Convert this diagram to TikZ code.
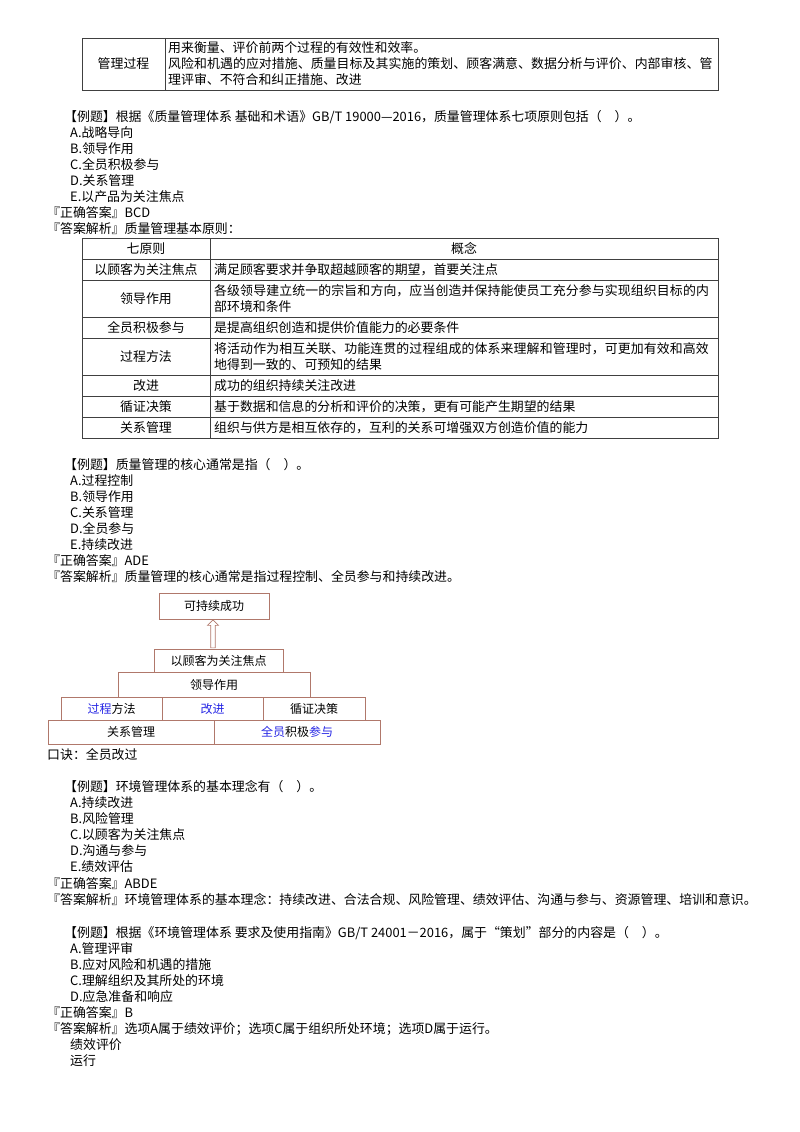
\documentclass[tikz,border=0pt]{standalone}
\usepackage{fontspec}
\setmainfont{Noto Sans CJK SC}
\XeTeXlinebreaklocale "zh"
\XeTeXlinebreakskip=0pt plus 1pt
\usetikzlibrary{shapes.arrows}
\definecolor{pyrline}{rgb}{0.690000, 0.470000, 0.420000}
\definecolor{pyrblue}{rgb}{0.150000, 0.150000, 0.900000}
\tikzset{
  line/.style={anchor=west, inner sep=0pt, font=\fontsize{12.9}{14}\selectfont},
  cell/.style={anchor=west, inner sep=0pt, align=left, font=\fontsize{12.9}{16}\selectfont},
  mid/.style={inner sep=0pt, font=\fontsize{12.9}{14}\selectfont},
  grid/.style={draw=black!75, line width=0.9pt},
  pyr/.style={draw=pyrline, line width=0.8pt, fill=white},
  pyrtxt/.style={inner sep=0pt, font=\fontsize{12}{13}\selectfont}
}
\begin{document}
\begin{tikzpicture}[x=1pt, y=-1pt]
\useasboundingbox (0,0) rectangle (800,1132);
% top table
\draw[grid] (82,38) rectangle (718,90);
\draw[grid] (165,38) -- (165,90);
\node[mid] (gl) at (123.5,64) {管理过程};
\node[cell, text width=546pt] (glc) at (168,64) {用来衡量、评价前两个过程的有效性和效率。\\风险和机遇的应对措施、质量目标及其实施的策划、顾客满意、数据分析与评价、内部审核、管理评审、不符合和纠正措施、改进};
% question 1
\node[line] (q1) at (64,117) {【例题】根据《质量管理体系 基础和术语》GB/T 19000—2016，质量管理体系七项原则包括（\quad ）。};
\node[line] (q1a) at (70,133) {A.战略导向};
\node[line] (q1b) at (70,149) {B.领导作用};
\node[line] (q1c) at (70,165) {C.全员积极参与};
\node[line] (q1d) at (70,181) {D.关系管理};
\node[line] (q1e) at (70,197) {E.以产品为关注焦点};
\node[line] (q1k) at (47,213) {『正确答案』BCD};
\node[line] (q1j) at (47,229) {『答案解析』质量管理基本原则：};
% principles table
\draw[grid] (82,238) rectangle (718,438);
\draw[grid] (210,238) -- (210,438);
\foreach \yy in {259,280,317,338,375,396,417}
  \draw[grid] (82,\yy) -- (718,\yy);
\node[mid] (h1) at (146,248.5) {七原则};
\node[mid] (h2) at (464,248.5) {概念};
\node[mid] (r1) at (146,269.5) {以顾客为关注焦点};
\node[cell] (r1c) at (214,269.5) {满足顾客要求并争取超越顾客的期望，首要关注点};
\node[mid] (r2) at (146,298.5) {领导作用};
\node[cell, text width=498pt] (r2c) at (214,298.5) {各级领导建立统一的宗旨和方向，应当创造并保持能使员工充分参与实现组织目标的内部环境和条件};
\node[mid] (r3) at (146,327.5) {全员积极参与};
\node[cell] (r3c) at (214,327.5) {是提高组织创造和提供价值能力的必要条件};
\node[mid] (r4) at (146,356.5) {过程方法};
\node[cell, text width=498pt] (r4c) at (214,356.5) {将活动作为相互关联、功能连贯的过程组成的体系来理解和管理时，可更加有效和高效地得到一致的、可预知的结果};
\node[mid] (r5) at (146,385.5) {改进};
\node[cell] (r5c) at (214,385.5) {成功的组织持续关注改进};
\node[mid] (r6) at (146,406.5) {循证决策};
\node[cell] (r6c) at (214,406.5) {基于数据和信息的分析和评价的决策，更有可能产生期望的结果};
\node[mid] (r7) at (146,427.5) {关系管理};
\node[cell] (r7c) at (214,427.5) {组织与供方是相互依存的，互利的关系可增强双方创造价值的能力};
% question 2
\node[line] (q2) at (64,465) {【例题】质量管理的核心通常是指（\quad ）。};
\node[line] (q2a) at (70,481) {A.过程控制};
\node[line] (q2b) at (70,497) {B.领导作用};
\node[line] (q2c) at (70,513) {C.关系管理};
\node[line] (q2d) at (70,529) {D.全员参与};
\node[line] (q2e) at (70,545) {E.持续改进};
\node[line] (q2k) at (47,561) {『正确答案』ADE};
\node[line] (q2j) at (47,577) {『答案解析』质量管理的核心通常是指过程控制、全员参与和持续改进。};
% pyramid
\draw[pyr] (159,593) rectangle (269,619);
\node[pyrtxt] (cg) at (214,606) {可持续成功};
\draw[pyr] (154,649) rectangle (283,672);
\node[pyrtxt] (gk) at (218.5,660.5) {以顾客为关注焦点};
\draw[pyr] (118,672) rectangle (310,697);
\node[pyrtxt] (ld) at (214,684.5) {领导作用};
\draw[pyr] (61,697) rectangle (162,720);
\draw[pyr] (162,697) rectangle (263,720);
\draw[pyr] (263,697) rectangle (365,720);
\node[pyrtxt] (gc) at (111.5,708.5) {\textcolor{pyrblue}{过程}方法};
\node[pyrtxt, text=pyrblue] (gj) at (212.5,708.5) {改进};
\node[pyrtxt] (xz) at (314,708.5) {循证决策};
\draw[pyr] (48,720) rectangle (214,744);
\draw[pyr] (214,720) rectangle (380,744);
\node[pyrtxt] (gx) at (131,732) {关系管理};
\node[pyrtxt] (qy) at (297,732) {\textcolor{pyrblue}{全员}积极\textcolor{pyrblue}{参与}};
\node[single arrow, draw=pyrline, line width=0.7pt, rotate=90, minimum height=28pt,
  minimum width=11pt, single arrow head extend=2pt, inner sep=1pt] (up) at (213,635) {};
\node[line] (kj) at (47,755) {口诀：全员改过};
% question 3
\node[line] (q3) at (64,787) {【例题】环境管理体系的基本理念有（\quad ）。};
\node[line] (q3a) at (70,803) {A.持续改进};
\node[line] (q3b) at (70,819) {B.风险管理};
\node[line] (q3c) at (70,835) {C.以顾客为关注焦点};
\node[line] (q3d) at (70,851) {D.沟通与参与};
\node[line] (q3e) at (70,867) {E.绩效评估};
\node[line] (q3k) at (47,884) {『正确答案』ABDE};
\node[line] (q3j) at (47,900) {『答案解析』环境管理体系的基本理念：持续改进、合法合规、风险管理、绩效评估、沟通与参与、资源管理、培训和意识。};
% question 4
\node[line] (q4) at (64,933) {【例题】根据《环境管理体系 要求及使用指南》GB/T 24001－2016，属于“策划”部分的内容是（\quad ）。};
\node[line] (q4a) at (70,949) {A.管理评审};
\node[line] (q4b) at (70,965) {B.应对风险和机遇的措施};
\node[line] (q4c) at (70,981) {C.理解组织及其所处的环境};
\node[line] (q4d) at (70,997) {D.应急准备和响应};
\node[line] (q4k) at (47,1013) {『正确答案』B};
\node[line] (q4j) at (47,1029) {『答案解析』选项A属于绩效评价；选项C属于组织所处环境；选项D属于运行。};
\node[line] (jx) at (70,1045) {绩效评价};
\node[line] (yx) at (70,1061) {运行};
\end{tikzpicture}
\end{document}
